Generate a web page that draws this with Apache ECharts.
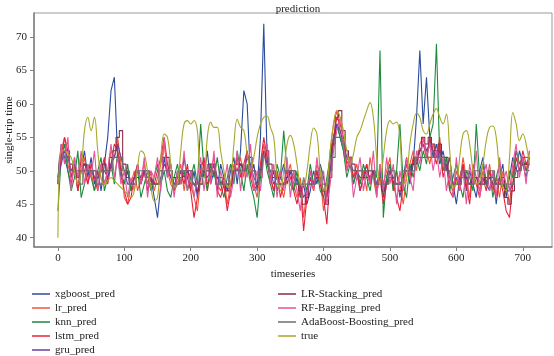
<!DOCTYPE html>
<html>
<head>
<meta charset="utf-8">
<script src="https://cdn.jsdelivr.net/npm/echarts@6/dist/echarts.min.js"></script>
<style>
  html, body { margin: 0; padding: 0; background: #fff; }
  #chart { width: 554px; height: 356px; }
</style>
</head>
<body>
<div id="chart"></div>
<script>
  // time index of the sampled points (every 5 steps)
  var timeIdx = []
  for (var t = 0; t <= 710; t += 5) timeIdx.push(t)

  var xTicks = [0, 100, 200, 300, 400, 500, 600, 700]
  var yTicks = [40, 45, 50, 55, 60, 65, 70]

  var xgboostPred = [
    49, 54, 52, 50, 48, 51, 47, 50, 53, 49,
    52, 48, 50, 47, 51, 55, 62, 64, 52, 49,
    48, 50, 47, 49, 51, 48, 50, 47, 49, 46,
    43, 48, 52, 49, 51, 47, 50, 48, 52, 49,
    47, 50, 46, 51, 49, 53, 48, 50, 47, 51,
    49, 47, 50, 52, 48, 53, 62, 60, 49, 51,
    47, 55, 72, 52, 48, 50, 47, 49, 51, 48,
    50, 47, 49, 46, 48, 45, 47, 50, 48, 51,
    49, 46, 52, 55, 57, 55, 53, 50, 52, 48,
    50, 47, 49, 51, 48, 50, 47, 50, 46, 49,
    51, 48, 50, 46, 49, 52, 48, 51, 58, 68,
    57, 64, 55, 52, 54, 51, 53, 50, 52, 48,
    45, 49, 51, 47, 50, 48, 46, 50, 52, 48,
    47, 50, 45, 49, 51, 46, 49, 52, 50, 53,
    51, 49, 52
  ]
  var lrPred = [
    48, 53, 55, 51, 49, 52, 47, 50, 52, 48,
    50, 47, 49, 51, 48, 50, 53, 52, 55, 51,
    46, 45, 48, 50, 47, 49, 51, 48, 50, 47,
    49, 51, 54, 50, 48, 47, 49, 51, 47, 50,
    48, 46, 44, 49, 51, 47, 50, 52, 48, 47,
    49, 45, 48, 51, 50, 52, 49, 53, 50, 48,
    46, 50, 54, 51, 49, 47, 50, 48, 46, 49,
    51, 48, 46, 49, 43, 47, 50, 48, 51, 49,
    44, 47, 53, 57, 59, 56, 54, 50, 52, 49,
    51, 48, 50, 47, 52, 49, 46, 51, 48, 50,
    52, 47, 50, 48, 45, 49, 51, 53, 50, 54,
    55, 53, 51, 54, 52, 55, 50, 52, 48, 47,
    50, 48, 52, 49, 46, 51, 49, 47, 50, 48,
    51, 47, 49, 46, 50, 48, 45, 50, 53, 51,
    52, 50, 53
  ]
  var knnPred = [
    44, 52, 54, 50, 47, 49, 53, 46, 48, 51,
    49, 47, 50, 52, 47, 49, 51, 48, 53, 50,
    48, 51, 47, 49, 50, 46, 48, 50, 47, 49,
    51, 48, 50, 47, 46, 49, 51, 48, 50, 47,
    49, 51, 48, 57, 50, 47, 51, 49, 52, 48,
    46, 49, 51, 48, 53, 50, 47, 51, 48, 46,
    43, 49, 53, 50, 48, 46, 51, 49, 56, 50,
    48, 47, 50, 46, 49, 47, 51, 48, 50, 47,
    46, 49, 52, 55, 57, 55, 53, 49, 51, 48,
    50, 48, 51, 49, 47, 50, 49, 68, 43, 49,
    51, 47, 50, 57, 48, 46, 51, 49, 52, 50,
    53, 51, 55, 57, 69, 52, 50, 52, 47, 49,
    51, 48, 46, 50, 49, 47, 57, 49, 51, 48,
    50, 46, 49, 51, 48, 47, 50, 49, 53, 51,
    52, 50, 51
  ]
  var lstmPred = [
    48, 52, 55, 53, 49, 51, 47, 52, 50, 48,
    51, 49, 47, 50, 52, 48, 51, 54, 53, 50,
    47, 45, 46, 49, 51, 48, 50, 47, 49, 48,
    50, 52, 55, 51, 49, 47, 48, 50, 48, 51,
    47, 43, 46, 50, 52, 48, 49, 51, 47, 46,
    48, 44, 47, 50, 52, 49, 51, 53, 49, 47,
    48, 51, 55, 52, 49, 47, 50, 46, 48, 50,
    49, 47, 45, 48, 41, 46, 49, 47, 50, 48,
    46, 42, 50, 55, 58, 57, 55, 51, 52, 49,
    50, 47, 49, 51, 48, 50, 47, 49, 45, 48,
    50, 48, 46, 44, 48, 51, 49, 52, 51, 53,
    54, 52, 55, 53, 51, 54, 49, 51, 47, 46,
    49, 47, 51, 48, 45, 50, 48, 46, 49, 47,
    50, 48, 46, 49, 47, 44, 43, 48, 52, 50,
    53, 51, 52
  ]
  var gruPred = [
    49, 51, 53, 52, 50, 51, 49, 50, 51, 50,
    50, 49, 49, 50, 50, 49, 51, 52, 54, 52,
    50, 48, 48, 49, 50, 49, 50, 49, 49, 48,
    48, 49, 51, 50, 49, 48, 49, 50, 49, 50,
    49, 48, 47, 49, 50, 49, 50, 51, 49, 48,
    49, 48, 48, 50, 50, 51, 50, 52, 51, 49,
    48, 50, 53, 51, 50, 48, 49, 49, 48, 49,
    50, 49, 48, 48, 46, 47, 49, 48, 49, 49,
    47, 46, 50, 54, 57, 56, 54, 52, 51, 50,
    50, 49, 49, 50, 49, 50, 48, 50, 47, 48,
    50, 49, 48, 48, 49, 50, 50, 51, 51, 53,
    54, 53, 54, 53, 52, 53, 51, 51, 49, 48,
    49, 48, 50, 49, 48, 49, 49, 48, 49, 48,
    49, 48, 48, 49, 48, 47, 47, 48, 50, 50,
    51, 51, 51
  ]
  var stackingPred = [
    48, 52, 53, 53, 51, 50, 49, 50, 51, 50,
    50, 50, 49, 50, 51, 50, 52, 53, 55, 56,
    51, 49, 48, 48, 49, 49, 50, 50, 48, 48,
    48, 50, 52, 52, 50, 49, 48, 49, 50, 50,
    50, 48, 47, 48, 50, 50, 51, 51, 49, 49,
    48, 47, 48, 50, 51, 51, 50, 52, 52, 50,
    48, 49, 52, 53, 51, 49, 49, 48, 48, 49,
    50, 50, 48, 47, 45, 46, 48, 48, 49, 49,
    47, 45, 49, 54, 58, 59, 56, 53, 52, 51,
    50, 50, 49, 49, 50, 50, 48, 49, 47, 48,
    49, 49, 48, 47, 49, 50, 50, 51, 52, 53,
    55, 54, 55, 54, 53, 54, 52, 52, 50, 48,
    48, 48, 49, 49, 48, 49, 49, 48, 48, 49,
    49, 49, 48, 48, 49, 46, 45, 47, 49, 50,
    51, 51, 50
  ]
  var baggingPred = [
    48, 54, 51, 55, 47, 52, 49, 53, 48, 51,
    49, 53, 47, 51, 48, 50, 54, 49, 52, 48,
    50, 46, 49, 47, 51, 48, 52, 46, 50, 49,
    52, 47, 55, 49, 51, 46, 50, 48, 53, 47,
    50, 46, 49, 52, 47, 51, 48, 53, 46, 50,
    48, 51, 46, 49, 53, 47, 51, 49, 54, 47,
    50, 47, 52, 54, 48, 51, 46, 50, 47, 52,
    46, 50, 47, 44, 49, 46, 50, 47, 52, 48,
    50, 45, 48, 53, 56, 58, 54, 50, 52, 46,
    49, 52, 47, 50, 48, 53, 46, 51, 47, 52,
    48, 51, 45, 50, 47, 52, 49, 47, 53, 51,
    55, 52, 54, 50, 53, 49, 52, 47, 50, 46,
    52, 47, 50, 45, 51, 48, 53, 46, 49, 51,
    47, 50, 46, 52, 48, 50, 47, 51, 54, 49,
    52, 48, 53
  ]
  var boostingPred = [
    48, 52, 52, 52, 50, 50, 50, 48, 50, 50,
    50, 50, 48, 48, 50, 50, 50, 52, 52, 52,
    50, 50, 48, 48, 50, 50, 50, 50, 48, 48,
    48, 50, 50, 50, 50, 48, 48, 50, 50, 50,
    50, 48, 48, 48, 50, 50, 50, 50, 48, 48,
    48, 48, 50, 50, 50, 50, 50, 52, 50, 50,
    48, 50, 52, 52, 50, 50, 48, 48, 48, 50,
    50, 50, 48, 48, 48, 48, 48, 48, 50, 50,
    48, 48, 50, 52, 55, 55, 54, 52, 52, 50,
    50, 50, 50, 50, 50, 50, 48, 48, 48, 48,
    50, 50, 48, 48, 50, 50, 50, 50, 52, 52,
    52, 52, 52, 52, 52, 52, 52, 50, 50, 48,
    48, 48, 50, 50, 48, 48, 50, 50, 48, 48,
    50, 50, 48, 48, 48, 48, 48, 48, 50, 50,
    52, 52, 52
  ]
  var trueVals = [
    40, 53, 53, 52.5, 52, 50, 48, 50, 56, 58,
    56, 58, 53, 49, 48, 48.5, 49, 48.5, 48, 47.5,
    47, 46.5, 46, 47, 50.5, 53, 52.5, 50, 47.5, 45.5,
    46, 52, 55.5, 55, 51, 47.5, 48, 53, 57, 57.5,
    57, 57.5, 56, 49, 49, 55, 57.3, 56.5, 56.5, 53,
    50, 47.5, 48, 54, 57.7, 56.5, 56, 52.5, 50, 52,
    55, 57, 58, 58.2, 56.5, 55, 49, 47, 50, 54,
    55.3, 54, 51, 48, 47.8, 50, 54, 56.4, 55.5, 50,
    47, 48, 53, 57, 59, 58, 56, 53, 51, 52.5,
    55, 56, 57.5, 59, 60.2, 58, 52, 48, 52, 56,
    57.5, 57, 57.3, 55, 48, 49, 54, 57, 58.6, 58,
    56, 55.5, 57, 58.5, 59.3, 58, 57, 58.5, 53, 47.5,
    48, 52, 55.5, 56, 54, 50, 48, 48.5, 51, 54.5,
    56.5, 56.7, 55, 50, 47.5, 47, 52, 58.7, 57, 54.5,
    55.5, 54, 51
  ]

  var seriesDefs = [
    {name: 'xgboost_pred', data: xgboostPred, color: '#2b4c9b'},
    {name: 'lr_pred', data: lrPred, color: '#f0553a'},
    {name: 'knn_pred', data: knnPred, color: '#1e8a3e'},
    {name: 'lstm_pred', data: lstmPred, color: '#e8203c'},
    {name: 'gru_pred', data: gruPred, color: '#6b3fa0'},
    {name: 'LR-Stacking_pred', data: stackingPred, color: '#8c2a45', step: 'middle'},
    {name: 'RF-Bagging_pred', data: baggingPred, color: '#e4559a'},
    {name: 'AdaBoost-Boosting_pred', data: boostingPred, color: '#6e6e6e', step: 'middle'},
    {name: 'true', data: trueVals, color: '#a8a82a', smooth: 0.4}
  ]

  var serif = 'Liberation Serif, DejaVu Serif, serif'
  var series = seriesDefs.map(function (s) {
    return {
      name: s.name,
      type: 'line',
      data: timeIdx.map(function (x, i) { return [x, s.data[i]] }),
      showSymbol: false,
      symbol: 'none',
      step: s.step || false,
      smooth: s.smooth || false,
      color: s.color,
      lineStyle: {width: 1.1, color: s.color}
    }
  })

  var legendBase = {
    orient: 'vertical',
    top: 287,
    height: 72,
    icon: 'rect',
    itemWidth: 18,
    itemHeight: 1.5,
    itemGap: 0,
    padding: 0,
    textStyle: {fontFamily: serif, fontSize: 11, color: '#222', lineHeight: 14}
  }

  var chart = echarts.init(document.getElementById('chart'))
  chart.setOption({
    animation: false,
    title: {
      text: 'prediction',
      left: 293,
      top: -1,
      textAlign: 'center',
      textStyle: {fontFamily: serif, fontSize: 11, fontWeight: 'normal', color: '#222'}
    },
    grid: {
      left: 34,
      right: 2,
      top: 13,
      bottom: 109,
      containLabel: false,
      outerBoundsMode: 'none',
      show: true,
      borderColor: '#999',
      borderWidth: 1
    },
    legend: [
      Object.assign({}, legendBase, {left: 32, data: seriesDefs.slice(0, 5).map(function (s) { return s.name })}),
      Object.assign({}, legendBase, {left: 278, data: seriesDefs.slice(5).map(function (s) { return s.name })})
    ],
    xAxis: {
      type: 'value',
      min: -36,
      max: 744,
      name: 'timeseries',
      nameLocation: 'middle',
      nameGap: 21,
      nameTextStyle: {fontFamily: serif, fontSize: 11, color: '#222'},
      axisLine: {show: true, onZero: false, lineStyle: {color: '#808080', width: 1.5}},
      axisTick: {show: true, length: 4, customValues: xTicks, lineStyle: {color: '#808080'}},
      axisLabel: {customValues: xTicks, margin: 6, fontFamily: serif, fontSize: 11, color: '#222'},
      splitLine: {show: false}
    },
    yAxis: {
      type: 'value',
      min: 38.6,
      max: 73.6,
      name: 'single-trip time',
      nameLocation: 'middle',
      nameGap: 19,
      nameMoveOverlap: false,
      nameTextStyle: {fontFamily: serif, fontSize: 11, color: '#222'},
      axisLine: {show: true, onZero: false, lineStyle: {color: '#808080', width: 1.5}},
      axisTick: {show: true, length: 4, customValues: yTicks, lineStyle: {color: '#808080'}},
      axisLabel: {customValues: yTicks, margin: 7, fontFamily: serif, fontSize: 11, color: '#222'},
      splitLine: {show: false}
    },
    series: series
  })
</script>
</body>
</html>
